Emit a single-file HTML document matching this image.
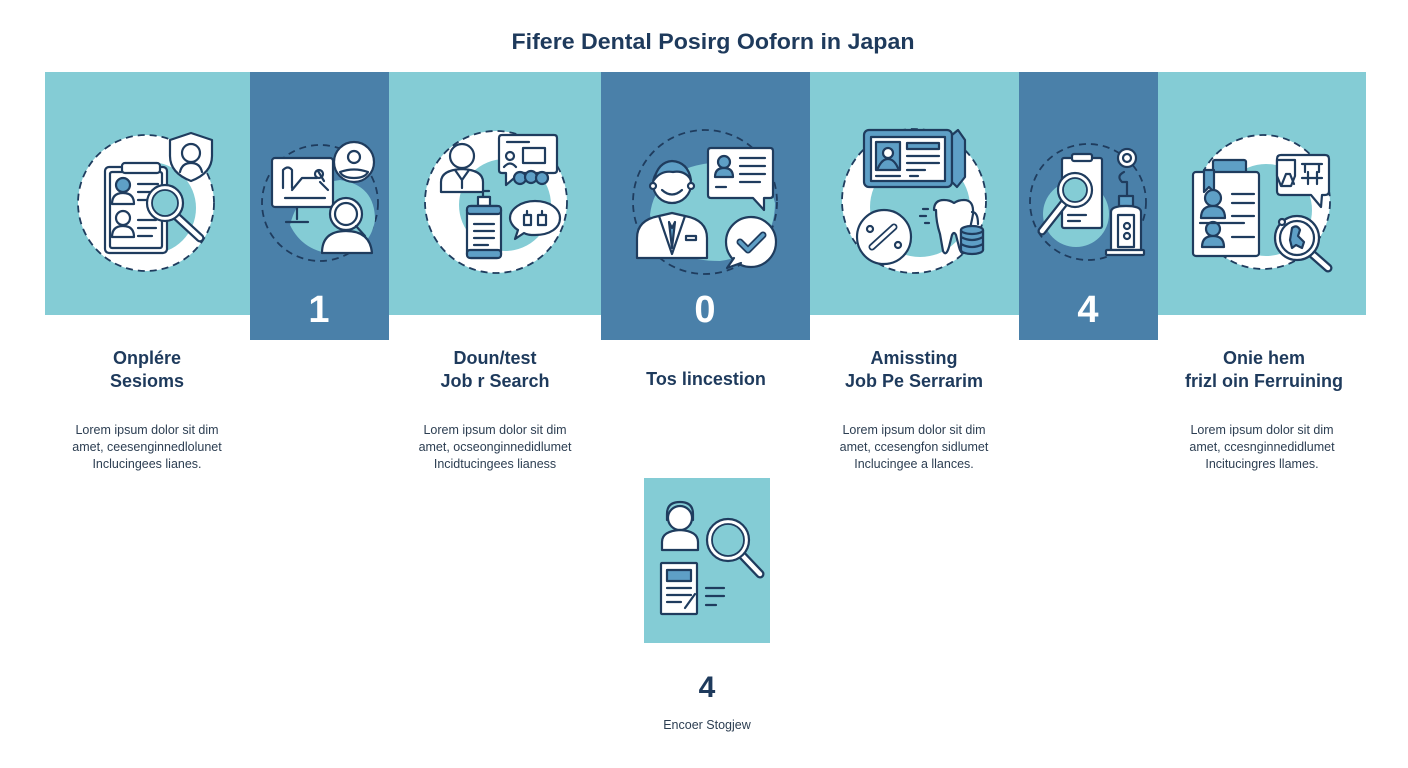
<!DOCTYPE html>
<html><head><meta charset="utf-8"><style>
html,body{margin:0;padding:0;background:#fff;width:1408px;height:768px;overflow:hidden}
svg{display:block}
text{font-family:"Liberation Sans",Arial,sans-serif}
</style></head><body>
<svg width="1408" height="768" viewBox="0 0 1408 768" xmlns="http://www.w3.org/2000/svg">
<defs>
<style>
.n{fill:none;stroke:#1f3c5e;stroke-width:2.2;stroke-linecap:round;stroke-linejoin:round}
.w{fill:#fff;stroke:#1f3c5e;stroke-width:2.2;stroke-linejoin:round;stroke-linecap:round}
.b{fill:#5e9fc6;stroke:#1f3c5e;stroke-width:2.2;stroke-linejoin:round}
.d{fill:none;stroke:#1f3c5e;stroke-width:1.8;stroke-dasharray:7 5}
.h{font-weight:bold;font-size:18px;fill:#1e3a5c;text-anchor:middle}
.p{font-size:12.5px;fill:#2c3e52;text-anchor:middle}
</style>
</defs>

<!-- title -->
<text x="713" y="49" text-anchor="middle" font-size="22" font-weight="bold" fill="#1e3a5c" textLength="403" lengthAdjust="spacingAndGlyphs">Fifere Dental Posirg Ooforn  in Japan</text>

<!-- band -->
<rect x="45" y="72" width="1321" height="243" fill="#84ccd5"/>
<rect x="250" y="72" width="139" height="268" fill="#4a80a9"/>
<rect x="601" y="72" width="209" height="268" fill="#4a80a9"/>
<rect x="1019" y="72" width="139" height="268" fill="#4a80a9"/>

<!-- numbers -->
<text x="319" y="322" text-anchor="middle" font-size="38" font-weight="bold" fill="#fff">1</text>
<text x="705" y="322" text-anchor="middle" font-size="38" font-weight="bold" fill="#fff">0</text>
<text x="1088" y="322" text-anchor="middle" font-size="38" font-weight="bold" fill="#fff">4</text>

<!-- PANEL 1 -->
<circle cx="146" cy="203" r="68" fill="#fff"/>
<circle cx="146" cy="203" r="68" class="d"/>
<circle cx="150" cy="208" r="46" fill="#84ccd5"/>
<rect x="105" y="167" width="62" height="86" rx="4" class="w"/>
<rect x="110" y="172" width="52" height="76" rx="2" class="n"/>
<rect x="122" y="163" width="38" height="10" rx="3" class="w"/>
<circle cx="123" cy="185" r="7" class="b"/>
<path d="M112 204 q0-11 11-11 q11 0 11 11 z" class="w"/>
<circle cx="123" cy="218" r="7" class="w"/>
<path d="M112 237 q0-11 11-11 q11 0 11 11 z" class="w"/>
<path d="M138 184h20M138 192h20M138 200h14M138 220h18M138 228h18M138 236h14" class="n"/>
<path d="M175 215 L200 238" stroke="#1f3c5e" stroke-width="9" stroke-linecap="round"/>
<path d="M175 215 L200 238" stroke="#fff" stroke-width="4.5" stroke-linecap="round"/>
<circle cx="165" cy="203" r="18" class="w"/>
<circle cx="165" cy="203" r="13" fill="#84ccd5" stroke="#1f3c5e" stroke-width="1.8"/>
<path d="M191 133 l21 7 v16 q0 17-21 25 q-21-8-21-25 v-16 z" class="w"/>
<circle cx="191" cy="153" r="9" class="n"/>
<path d="M180 172 q2-9 11-9 q9 0 11 9" class="n"/>

<!-- PANEL 2 -->
<circle cx="320" cy="203" r="58" class="d"/>
<path d="M290 225 q10-40 50-45 q35 5 35 40 q-5 32-40 34 q-32-2-45-29z" fill="#84ccd5"/>
<rect x="272" y="158" width="61" height="49" rx="3" class="w"/>
<path d="M297 207v12M286 222h22" class="n"/>
<path d="M283 188v-18 q5-5 9 0 v18 M292 190 l10-12 h15 M318 171 l6 10 M320 182 l8 8 M285 198h40" class="n"/>
<circle cx="319" cy="174" r="4" class="n"/>
<circle cx="354" cy="162" r="20" class="w"/>
<circle cx="354" cy="157" r="6" class="n"/>
<path d="M340 172 q14-5 28 0 q-3 6-14 6 q-11 0-14-6z" class="n"/>
<path d="M322 253 q0-22 24-22 q24 0 26 22 z" class="w"/>
<circle cx="346" cy="214" r="16" class="w"/>
<circle cx="346" cy="214" r="11" class="n"/>
<path d="M356 226 l9 10" class="n"/>

<!-- PANEL 3 -->
<circle cx="496" cy="202" r="71" fill="#fff"/>
<circle cx="496" cy="202" r="71" class="d"/>
<circle cx="505" cy="205" r="46" fill="#84ccd5"/>
<circle cx="462" cy="156" r="12" class="w"/>
<path d="M441 192 v-10 q0-12 21-13 q21 1 21 13 v10 z" class="w"/>
<path d="M455 170 l7 10 l7-10 M462 180v8" class="n"/>
<path d="M502 135 h52 q3 0 3 3 v32 q0 3-3 3 h-34 l-14 12 v-12 h-4 q-3 0-3-3 v-32 q0-3 3-3z" class="w"/>
<path d="M507 142h22" class="n"/>
<circle cx="510" cy="156" r="4" class="n"/>
<path d="M504 167 q6-7 12 0" class="n"/>
<rect x="523" y="148" width="22" height="15" class="n"/>
<circle cx="520" cy="178" r="6" class="b"/>
<circle cx="531" cy="177" r="6" class="b"/>
<circle cx="542" cy="178" r="6" class="b"/>
<path d="M480 197 h10 M483 197 v-6 h6" class="n"/>
<rect x="478" y="197" width="12" height="9" class="w"/>
<rect x="467" y="206" width="34" height="52" rx="4" class="w"/>
<rect x="467" y="206" width="34" height="8" rx="3" class="b"/>
<rect x="467" y="250" width="34" height="8" rx="3" class="b"/>
<path d="M474 224h20M474 231h20M474 238h20M474 245h14" class="n"/>
<path d="M535 201 c15 0 25 8 25 17 c0 10-10 17-25 17 c-4 0-8 0-11-2 l-9 6 l3-9 c-5-3-8-8-8-12 c0-9 11-17 25-17z" class="w"/>
<path d="M524 225 v-10 h7 v10 z M538 225 v-10 h8 v10 z M527 215 v-4 M542 215 v-4" class="n"/>

<!-- PANEL 4 -->
<circle cx="705" cy="202" r="72" class="d"/>
<path d="M650 215 q5-45 60-52 q55 0 65 40 q0 50-55 58 q-60 0-70-46z" fill="#84ccd5"/>
<path d="M637 258 v-20 q0-18 22-22 l13-3 l13 3 q22 4 22 22 v20 z" class="w"/>
<path d="M659 216 l13 38 l13-38" class="n"/>
<path d="M669 222 l3 6 l3-6 l-3 26 z" class="b"/>
<rect x="686" y="236" width="10" height="4" class="n"/>
<circle cx="672" cy="184" r="19" class="w"/>
<path d="M654 180 q4-18 18-19 q16 1 19 19 q-6-10-18-8 q-12-2-19 8z" class="b"/>
<path d="M662 190 q10 9 20 0" class="n"/>
<circle cx="653" cy="186" r="3" class="w"/>
<circle cx="691" cy="186" r="3" class="w"/>
<path d="M711 148 h59 q3 0 3 3 v44 q0 3-3 3 h-6 v12 l-11-12 h-42 q-3 0-3-3 v-44 q0-3 3-3z" class="w"/>
<circle cx="724" cy="162" r="6" class="b"/>
<path d="M715 177 q0-9 9-9 q9 0 9 9 z" class="b"/>
<path d="M740 158h25M740 166h25M740 174h25M740 182h20M716 187h10" class="n"/>
<circle cx="751" cy="242" r="25" class="w"/>
<path d="M734 258 l-7 10 l14-5" class="w"/>
<path d="M740 242 l8 8 l15-15" fill="none" stroke="#1f3c5e" stroke-width="7" stroke-linecap="round" stroke-linejoin="round"/>
<path d="M740 242 l8 8 l15-15" fill="none" stroke="#5e9fc6" stroke-width="3.5" stroke-linecap="round" stroke-linejoin="round"/>

<!-- PANEL 5 -->
<circle cx="914" cy="201" r="72" fill="#fff"/>
<circle cx="914" cy="201" r="72" class="d"/>
<circle cx="920" cy="207" r="50" fill="#84ccd5"/>
<rect x="864" y="130" width="88" height="57" rx="5" class="b"/>
<rect x="871" y="137" width="74" height="44" class="w"/>
<rect x="876" y="142" width="24" height="28" class="b"/>
<circle cx="888" cy="153" r="5" class="w"/>
<path d="M878 168 q4-9 10-9 q6 0 10 9" class="n"/>
<rect x="907" y="143" width="32" height="6" class="b"/>
<path d="M907 156h32M907 163h32M907 170h18M876 176h24M910 176h8" class="n"/>
<path d="M952 135 l6-5 l7 10 v37 l-8 10 l-5-5z" class="b"/>
<circle cx="884" cy="237" r="27" class="w"/>
<path d="M872 247 l22-20" stroke="#1f3c5e" stroke-width="7" stroke-linecap="round"/>
<path d="M872 247 l22-20" stroke="#fff" stroke-width="3.5" stroke-linecap="round"/>
<circle cx="870" cy="229" r="3" class="w"/>
<circle cx="898" cy="245" r="3" class="w"/>
<path d="M934 210 q0-10 10-10 q6 0 10 3 q4-3 10-3 q10 0 9 14 q-2 12-5 20 l-3 17 q-3 6-6-4 l-3-12 q-2-4-4 0 l-3 12 q-3 10-6 4 l-3-17 q-4-12-4-24z" class="w"/>
<path d="M928 209h-5M926 216h-6M929 223h-4" class="n"/>
<path d="M972 212 q6 0 6 12" class="n"/>
<ellipse cx="972" cy="250" rx="11" ry="4" class="b"/>
<path d="M961 230 v20 M983 230 v20" class="n"/>
<rect x="961" y="230" width="22" height="20" fill="#5e9fc6"/>
<path d="M961 230 v20 M983 230 v20 M961 237 q11 6 22 0 M961 244 q11 6 22 0" class="n"/>
<ellipse cx="972" cy="230" rx="11" ry="4" class="b"/>

<!-- PANEL 6 -->
<circle cx="1088" cy="202" r="58" class="d"/>
<circle cx="1076" cy="214" r="33" fill="#84ccd5"/>
<rect x="1062" y="158" width="40" height="70" rx="2" class="w"/>
<rect x="1072" y="154" width="20" height="7" rx="2" class="w"/>
<path d="M1068 215h18M1068 221h12" class="n"/>
<path d="M1064 203 L1042 231" stroke="#1f3c5e" stroke-width="9" stroke-linecap="round"/>
<path d="M1064 203 L1042 231" stroke="#fff" stroke-width="4.5" stroke-linecap="round"/>
<circle cx="1075" cy="190" r="17" class="w"/>
<circle cx="1075" cy="190" r="12" fill="#84ccd5" stroke="#1f3c5e" stroke-width="1.8"/>
<circle cx="1127" cy="158" r="9" class="w"/>
<circle cx="1127" cy="158" r="4" class="n"/>
<path d="M1124 172 q-8 4-2 10 h5 v14" class="n"/>
<rect x="1119" y="196" width="14" height="10" class="b"/>
<path d="M1111 250 v-38 q0-6 15-6 q15 0 15 6 v38 z" class="w"/>
<rect x="1118" y="215" width="16" height="32" class="n"/>
<circle cx="1127" cy="226" r="3" class="n"/>
<circle cx="1127" cy="236" r="3" class="n"/>
<rect x="1106" y="250" width="38" height="5" rx="1" class="w"/>

<!-- PANEL 7 -->
<circle cx="1263" cy="202" r="67" fill="#fff"/>
<circle cx="1263" cy="202" r="67" class="d"/>
<circle cx="1266" cy="210" r="46" fill="#84ccd5"/>
<rect x="1213" y="160" width="33" height="14" rx="2" class="b"/>
<rect x="1193" y="172" width="66" height="84" rx="3" class="w"/>
<path d="M1204 170 v22 l5-5 l5 5 v-22z" class="b"/>
<circle cx="1213" cy="198" r="8" class="b"/>
<path d="M1201 218 q0-12 12-12 q12 0 12 12 z" class="b"/>
<circle cx="1213" cy="229" r="7" class="b"/>
<path d="M1202 247 q0-11 11-11 q11 0 11 11 z" class="b"/>
<path d="M1232 194h22M1232 203h22M1232 216h22M1232 237h22M1200 223h44" class="n"/>
<path d="M1281 155 h44 q4 0 4 4 v32 q0 4-4 4 h-3 l-1 12 l-10-12 h-30 q-4 0-4-4 v-32 q0-4 4-4z" class="w"/>
<path d="M1277 160 h18 v16 l-4 10 h-10 l-4-10 z" class="w"/>
<path d="M1282 184 l4-10 h4 l4 10" class="n"/>
<path d="M1302 164 h20 M1305 164 v8 M1319 164 v8 M1302 178 h20 M1308 172 v12 M1317 172 v12" class="n"/>
<path d="M1311 253 L1328 268" stroke="#1f3c5e" stroke-width="9" stroke-linecap="round"/>
<path d="M1311 253 L1328 268" stroke="#fff" stroke-width="4.5" stroke-linecap="round"/>
<circle cx="1297" cy="238" r="22" class="w"/>
<circle cx="1297" cy="238" r="17" class="n"/>
<circle cx="1282" cy="222" r="3" class="w"/>
<path d="M1292 228 q5-4 8 2 l-2 6 l6 6 l-2 6 l-6-3 l-4 3 l-2-8z" class="b"/>

<!-- headings -->
<text x="147" y="364" class="h">Onplére</text>
<text x="147" y="387" class="h">Sesioms</text>
<text x="495" y="364" class="h">Doun/test</text>
<text x="495" y="387" class="h">Job r Search</text>
<text x="706" y="385" class="h">Tos lincestion</text>
<text x="914" y="364" class="h">Amissting</text>
<text x="914" y="387" class="h">Job Pe Serrarim</text>
<text x="1264" y="364" class="h">Onie hem</text>
<text x="1264" y="387" class="h">frizl oin Ferruining</text>

<!-- body -->
<g class="p">
<text x="147" y="434" class="p">Lorem ipsum dolor sit dim</text>
<text x="147" y="451" class="p">amet, ceesenginnedlolunet</text>
<text x="147" y="468" class="p">Inclucingees lianes.</text>
<text x="495" y="434" class="p">Lorem ipsum dolor sit dim</text>
<text x="495" y="451" class="p">amet, ocseonginnedidlumet</text>
<text x="495" y="468" class="p">Incidtucingees lianess</text>
<text x="914" y="434" class="p">Lorem ipsum dolor sit dim</text>
<text x="914" y="451" class="p">amet, ccesengfon sidlumet</text>
<text x="914" y="468" class="p">Inclucingee a llances.</text>
<text x="1262" y="434" class="p">Lorem ipsum dolor sit dim</text>
<text x="1262" y="451" class="p">amet, ccesnginnedidlumet</text>
<text x="1262" y="468" class="p">Incitucingres llames.</text>
</g>

<!-- bottom box -->
<rect x="644" y="478" width="126" height="165" fill="#84ccd5"/>
<circle cx="680" cy="518" r="12" class="w"/>
<path d="M667 520 v-6 q0-12 13-12 q13 0 13 12 v6" class="n"/>
<path d="M662 550 v-8 q0-11 18-12 q18 1 18 12 v8 z" class="w"/>
<path d="M741 554 L760 574" stroke="#1f3c5e" stroke-width="9" stroke-linecap="round"/>
<path d="M741 554 L760 574" stroke="#fff" stroke-width="4.5" stroke-linecap="round"/>
<circle cx="728" cy="540" r="21" class="w"/>
<circle cx="728" cy="540" r="16" fill="#84ccd5" stroke="#1f3c5e" stroke-width="1.8"/>
<rect x="661" y="563" width="36" height="51" rx="1" class="w"/>
<rect x="667" y="570" width="24" height="11" class="b"/>
<path d="M667 588h24M667 595h24M667 602h14" class="n"/>
<path d="M685 608 l10-14" class="n"/>
<path d="M706 588h18M706 596h18M706 605h10" class="n"/>

<text x="707" y="697" text-anchor="middle" font-size="30" font-weight="bold" fill="#1e3a5c">4</text>
<text x="707" y="729" text-anchor="middle" font-size="12.5" fill="#2c3e52">Encoer Stogjew</text>
</svg>
</body></html>
